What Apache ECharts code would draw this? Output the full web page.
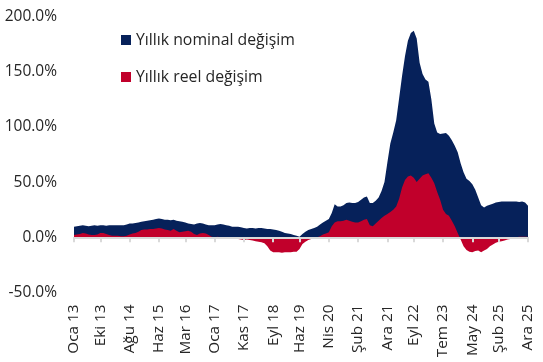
<!DOCTYPE html>
<html>
<head>
<meta charset="utf-8">
<script src="https://cdn.jsdelivr.net/npm/echarts@6/dist/echarts.min.js"></script>
<style>html,body{margin:0;padding:0;background:#fff}#c{width:543px;height:362px}</style>
</head>
<body>
<div id="c"></div>
<script>
const monthNames = ['Oca','Şub','Mar','Nis','May','Haz','Tem','Ağu','Eyl','Eki','Kas','Ara'];
const yearNames = ['13','14','15','16','17','18','19','20','21','22','23','24','25'];
const categories = [];
yearNames.forEach(y => monthNames.forEach(m => categories.push(m + ' ' + y)));

const tickLabels = ['Oca 13','Eki 13','Ağu 14','Haz 15','Mar 16','Oca 17','Kas 17','Eyl 18','Haz 19','Nis 20','Şub 21','Ara 21','Eyl 22','Tem 23','May 24','Şub 25','Ara 25'];

const nominal = [
 9.5,10,10.5,11,10.5,10,10.5,11,10.5,11,11,10.5,
 11,11,11,11,11,11,11.5,12.5,12.5,13,13.5,14,
 14.5,15,15.5,16,16.5,17,16.5,16,16,15.5,16,15,
 14.5,14,13.5,12.5,12,11.5,12.5,13,12.5,11.5,11,11,
 11,11.5,12,11.5,11,10.5,9.5,9.5,9.5,9,8.5,8,
 8.5,8.5,8,8.5,8.5,8,7.5,7.5,7,6.5,6,5,
 4,3.5,3,2,1.5,0.5,3,5,6.5,7.5,8.5,9.5,
 11.5,13.5,15,16.5,22,30,28,28,29,31,31.5,31,
 31,32,34,36,37,31,31,33,36,42,50,68,
 85,95,106,126,146,164,178,185,187,180,158,148,
 143,141,125,103,95,93.5,94,94.5,92,88,83,77,
 67,59,53,51,48,43,36,29,27,28.5,29.5,30.5,
 31.5,32,32.5,32.5,32.5,32.5,32.5,32.5,32,32.5,31.5,28.5
];

const reel = [
 2,2.5,3,4,3.5,2.5,2,2,2.5,4,4,3,
 2,1.5,1.5,1.5,1,1,1.5,2.5,3.5,4,5,6.5,
 7,7,7.5,7.5,8,8.5,8,7,6.5,6,7.5,6,
 4.5,5,5.5,6,5,3,2,3.5,4,3.5,2,0.5,
 0,0.5,0,-0.5,-1,-1,-1.5,-1,-1.5,-2,-2.5,-2,
 -2.5,-3,-3.5,-4,-4.5,-5.5,-8,-12,-13.5,-13.5,-13.5,-14,
 -13.5,-13.5,-13.5,-13,-13,-10.5,-6,-4,-2.5,-1.5,-1,0,
 1,2.5,3.5,4.5,10,13.5,14.5,14.5,15,16,15,14,
 13.5,13.5,14.5,16,16.5,11,10,12.5,15,17.5,19.5,21,
 23,25,28,35,45,52,55,56,54,50,53,56,
 57,58,54,49,41,34,25,21,19.5,15,10,4,
 -2,-8,-11.5,-13,-13.5,-12.5,-12,-13.5,-12,-10.5,-8,-6.5,
 -5,-4,-3.5,-3,-2,-1.5,-0.5,0,0.5,0.5,0.5,0.5
];

const seriesNames = ['Yıllık nominal değişim','Yıllık reel değişim'];
const FONT = '"Open Sans", sans-serif';
const TXT = '#262626';
const showTick = (i, v) => tickLabels.indexOf(v) >= 0;

const chart = echarts.init(document.getElementById('c'), null, {renderer:'canvas'});
chart.setOption({
  animation: false,
  textStyle: {fontFamily: FONT},
  grid: {left: 74, right: 15, top: 16.5, bottom: 69.5},
  legend: {
    orient: 'vertical', left: 121, top: 32, padding: 0, itemGap: 21,
    icon: 'rect', itemWidth: 10, itemHeight: 10,
    textStyle: {fontFamily: FONT, fontSize: 15.8, color: TXT},
    data: seriesNames
  },
  xAxis: [{
    type: 'category', data: categories, boundaryGap: false, position: 'bottom',
    axisLine: {show: false, onZero: false}, axisTick: {show: false},
    axisLabel: {interval: showTick, rotate: 90, margin: 12, fontFamily: FONT, fontSize: 15.3, color: TXT}
  }, {
    type: 'category', data: categories, boundaryGap: false, position: 'bottom', z: 10,
    axisLine: {show: true, onZero: true, lineStyle: {color: '#d9d9d9', width: 2}},
    axisTick: {show: true, interval: showTick, length: 5, lineStyle: {color: '#d9d9d9', width: 2}},
    axisLabel: {show: false}
  }],
  yAxis: {
    type: 'value', min: -50, max: 200, interval: 50,
    axisLine: {show: false}, axisTick: {show: false}, splitLine: {show: false},
    axisLabel: {margin: 17, fontFamily: FONT, fontSize: 15.5, color: TXT, formatter: v => v.toFixed(1) + '%'}
  },
  series: [{
    name: seriesNames[0], type: 'line', data: nominal, xAxisIndex: 0,
    symbol: 'none', lineStyle: {width: 0}, color: '#06215a',
    areaStyle: {color: '#06215a', opacity: 1}
  }, {
    name: seriesNames[1], type: 'line', data: reel, xAxisIndex: 0,
    symbol: 'none', lineStyle: {width: 0}, color: '#c1002b',
    areaStyle: {color: '#c1002b', opacity: 1}
  }]
});
</script>
</body>
</html>
